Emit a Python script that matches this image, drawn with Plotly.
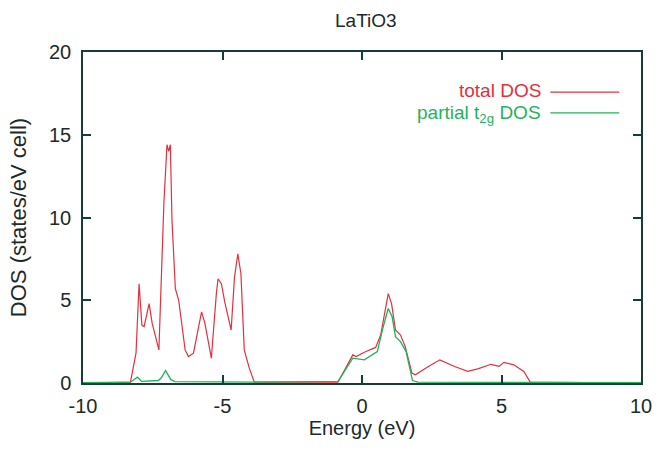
import plotly.graph_objects as go

# Total DOS (states/eV cell) vs energy (eV)
energy_total = [-10, -8.3, -8.1, -7.99, -7.89, -7.81, -7.63, -7.52, -7.28, -7.10, -6.99, -6.93,
                -6.87, -6.81, -6.69, -6.57, -6.34, -6.22, -6.04, -5.87, -5.75, -5.63, -5.40,
                -5.22, -5.16, -5.04, -4.92, -4.69, -4.57, -4.45, -4.34, -4.22, -4.04, -3.86,
                -0.86, -0.33, -0.21, 0.14, 0.49, 0.67, 0.85, 0.94, 1.06, 1.20, 1.38, 1.55,
                1.79, 1.91, 2.38, 2.79, 3.32, 3.79, 4.15, 4.62, 4.91, 5.09, 5.44, 5.80, 6.03, 10]
dos_total = [0, 0.05, 1.8, 6.0, 3.5, 3.4, 4.8, 3.6, 2.0, 10.9, 14.4, 14.0,
             14.4, 9.8, 5.7, 5.0, 2.0, 1.6, 1.8, 3.4, 4.3, 3.6, 1.5,
             5.4, 6.3, 6.0, 4.9, 3.2, 6.4, 7.8, 6.6, 2.0, 0.9, 0.05,
             0.05, 1.7, 1.6, 1.9, 2.15, 2.9, 4.6, 5.4, 4.8, 3.2, 2.9, 2.2,
             0.6, 0.5, 1.0, 1.4, 1.0, 0.7, 0.85, 1.13, 1.0, 1.25, 1.1, 0.7, 0.05, 0]

# Partial t2g DOS
energy_t2g = [-10, -8.3, -8.05, -7.9, -7.3, -7.2, -7.04, -6.85, -6.7, -4.0, -0.86, -0.33,
              0.08, 0.55, 0.73, 0.94, 1.08, 1.20, 1.38, 1.58, 1.81, 2.0, 10]
dos_t2g = [0.02, 0.05, 0.35, 0.1, 0.15, 0.3, 0.75, 0.2, 0.08, 0.05, 0.1, 1.5,
           1.4, 1.9, 3.2, 4.5, 4.0, 2.8, 2.5, 1.9, 0.15, 0.05, 0.02]

x_ticks = [-10, -5, 0, 5, 10]
x_tick_labels = ["-10", "-5", "0", "5", "10"]
y_ticks = [0, 5, 10, 15, 20]
y_tick_labels = ["0", "5", "10", "15", "20"]

RED = "#e3303c"
GREEN = "#1fb35a"
FRAME = "#163c3c"
TEXT = "#1c2a2a"
FONT = "Liberation Sans, Arial, sans-serif"

fig = go.Figure()
fig.add_trace(go.Scatter(x=energy_total, y=dos_total, mode="lines",
                         line=dict(color=RED, width=1.2), name="total DOS",
                         showlegend=False))
fig.add_trace(go.Scatter(x=energy_t2g, y=dos_t2g, mode="lines",
                         line=dict(color=GREEN, width=1.3), name="partial t2g DOS",
                         showlegend=False))

axis_common = dict(showgrid=False, zeroline=False, showline=True, linecolor=FRAME,
                   linewidth=1.5, mirror="allticks", ticks="inside", ticklen=8,
                   tickcolor=FRAME, tickwidth=1.5,
                   tickfont=dict(family=FONT, size=20, color=TEXT))

fig.update_xaxes(range=[-10, 10], tickvals=x_ticks, ticktext=x_tick_labels,
                 ticklabelstandoff=4, **axis_common,
                 title=dict(text="Energy (eV)", font=dict(family=FONT, size=20, color=TEXT),
                            standoff=4))
fig.update_yaxes(range=[0, 20], tickvals=y_ticks, ticktext=y_tick_labels,
                 ticklabelstandoff=6, **axis_common,
                 title=dict(text="DOS (states/eV cell)", font=dict(family=FONT, size=22, color=TEXT),
                            standoff=16))

# gnuplot-style key: text, then line sample
legend_items = [("total DOS", RED, 0.885, 0.879),
                ("partial t<sub>2g</sub> DOS", GREEN, 0.812, 0.816)]
for text, col, ty, ly in legend_items:
    fig.add_annotation(text=text, xref="paper", yref="paper", x=0.825, y=ty,
                       xanchor="right", yanchor="middle", showarrow=False,
                       font=dict(family=FONT, size=19, color=col))
    fig.add_shape(type="line", xref="paper", yref="paper", x0=0.8375, x1=0.961,
                  y0=ly, y1=ly, line=dict(color=col, width=1.2))

fig.update_layout(
    width=664, height=450,
    margin=dict(l=83, r=15, t=52, b=67),
    paper_bgcolor="white", plot_bgcolor="white",
    title=dict(text="LaTiO3", x=0.551, xanchor="center", y=0.955, yanchor="middle",
               font=dict(family=FONT, size=19, color=TEXT)),
)

fig.write_html("out.html")
